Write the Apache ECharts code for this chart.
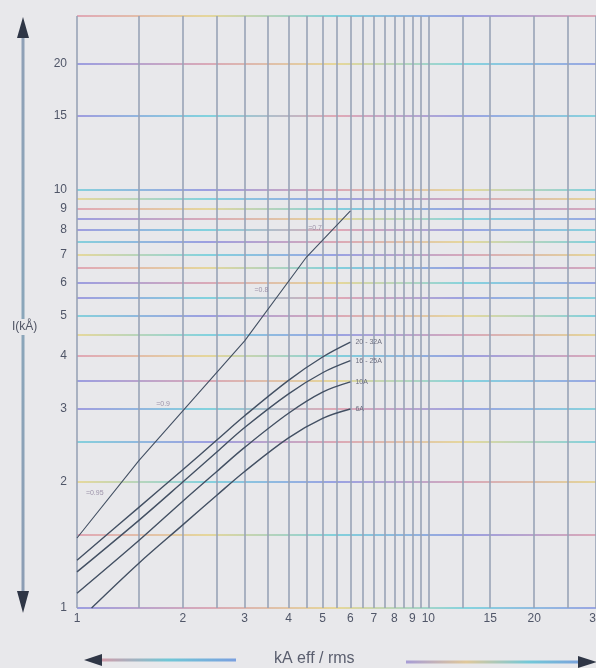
<!DOCTYPE html>
<html>
<head>
<meta charset="utf-8">
<script src="https://cdn.jsdelivr.net/npm/echarts@6/dist/echarts.min.js"></script>
<style>
html,body{margin:0;padding:0;background:#e8e8eb;}
#c{width:596px;height:668px;}
</style>
</head>
<body>
<div id="c"></div>
<script>
// ---- data (real values, plotted on log10 scale) ----
const xGridValues = [1,1.5,2,2.5,3,3.5,4,4.5,5,5.5,6,6.5,7,7.5,8,8.5,9,9.5,10,12.5,15,20,25,30];
const xLabelValues = [1,2,3,4,5,6,7,8,9,10,15,20,30];
const yGridValues = [1,1.5,2,2.5,3,3.5,4,4.5,5,5.5,6,6.5,7,7.5,8,8.5,9,9.5,10,15,20,26];
const yLabelValues = [1,2,3,4,5,6,7,8,9,10,15,20];
const xMin = 1, xMax = 30, yMin = 1, yMax = 26;

// unlimited peak current line (piecewise by power factor)
const peakX = [1, 1.5, 3, 4.5, 6];
const peakY = [1.47, 2.25, 4.35, 6.9, 8.9];
const pfLabels = ['=0.95', '=0.9', '=0.8', '=0.7'];
const pfLabelX = [1.06, 1.68, 3.2, 4.55];
const pfLabelY = [1.88, 3.08, 5.75, 8.1];

// let-through curves
const curveNames = ['20 - 32A', '16 - 25A', '10A', '6A'];
const curve1X = [1, 1.5, 2, 2.5, 3, 4, 5, 6];
const curve1Y = [1.30, 1.74, 2.14, 2.52, 2.88, 3.5, 3.98, 4.32];
const curve2X = [1, 1.5, 2, 2.5, 3, 4, 5, 6];
const curve2Y = [1.22, 1.62, 2.0, 2.36, 2.7, 3.25, 3.65, 3.9];
const curve3X = [1, 1.5, 2, 2.5, 3, 4, 5, 6];
const curve3Y = [1.085, 1.45, 1.8, 2.12, 2.42, 2.92, 3.28, 3.47];
const curve4X = [1.1, 1.5, 2, 2.5, 3, 4, 5, 6];
const curve4Y = [1.0, 1.28, 1.58, 1.86, 2.12, 2.55, 2.84, 2.99];

const L = Math.log10;
const pts = (xs, ys) => xs.map((x, i) => [L(x), L(ys[i])]);

const chart = echarts.init(document.getElementById('c'), null, {renderer: 'canvas'});
const G = echarts.graphic.LinearGradient;
const gLeft = 77, gRight = 596;
function hGrad(stops) {
  return new G(gLeft, 0, gRight, 0, stops.map((c, i) => ({offset: i / (stops.length - 1), color: c})), true);
}
const hColors = [
  hGrad(['#9c9ee0', '#d9a9b8', '#e6d79a', '#86d3de', '#9aa6e2']),
  hGrad(['#e0a8b6', '#e5d69c', '#82d0dc', '#9a9fe0', '#dba9b8']),
  hGrad(['#e6d89c', '#84d2de', '#9aa2e2', '#d7a8ba', '#e4d59a']),
  hGrad(['#86d0dc', '#9c9fe0', '#dba8b6', '#e5d89e', '#82d0de']),
  hGrad(['#a09ddf', '#82d2de', '#e0a9b6', '#9ba3e2', '#88d3dd'])
];
const curveColor = '#435063';

function curveSeries(name, xs, ys) {
  return {
    type: 'line', name: name, data: pts(xs, ys), smooth: 0.35, symbol: 'none',
    lineStyle: {color: curveColor, width: 1.4},
    endLabel: {show: true, formatter: name, color: '#6d6f80', fontSize: 7, distance: 5,
               fontFamily: 'Liberation Sans'},
    z: 5, silent: true
  };
}

const option = {
  backgroundColor: '#e8e8eb',
  animation: false,
  grid: {left: gLeft, right: 596 - gRight, top: 16, bottom: 60,
         containLabel: false, outerBoundsMode: 'none'},
  xAxis: {
    type: 'value', min: L(xMin), max: L(xMax),
    axisLine: {show: false},
    axisTick: {show: false, customValues: xGridValues.map(L)},
    axisLabel: {
      customValues: xLabelValues.map(L), margin: 5, hideOverlap: false,
      formatter: v => String(Math.round(Math.pow(10, v))),
      color: '#505668', fontSize: 12, fontFamily: 'Liberation Sans'
    },
    splitLine: {show: true, lineStyle: {color: '#98a3b7', width: 1.6}}
  },
  yAxis: {
    type: 'value', min: L(yMin), max: L(yMax),
    axisLine: {show: false},
    axisTick: {show: false, customValues: yGridValues.map(L)},
    axisLabel: {
      customValues: yLabelValues.map(L), margin: 10,
      formatter: v => String(Math.round(Math.pow(10, v))),
      color: '#505668', fontSize: 12, fontFamily: 'Liberation Sans'
    },
    splitLine: {show: true, lineStyle: {color: hColors, width: 2}}
  },
  series: [
    {
      type: 'line', name: 'peak', data: pts(peakX, peakY), symbol: 'none',
      lineStyle: {color: curveColor, width: 1.1}, z: 5, silent: true
    },
    {
      type: 'scatter', name: 'pf', symbolSize: 0, silent: true,
      data: pfLabelX.map((x, i) => ({value: [L(x), L(pfLabelY[i])], name: pfLabels[i]})),
      label: {show: true, position: 'right', distance: 0, formatter: p => p.name,
              color: '#8a7d98', fontSize: 7, fontFamily: 'Liberation Sans'},
      z: 6
    },
    curveSeries(curveNames[0], curve1X, curve1Y),
    curveSeries(curveNames[1], curve2X, curve2Y),
    curveSeries(curveNames[2], curve3X, curve3Y),
    curveSeries(curveNames[3], curve4X, curve4Y)
  ],
  graphic: [
    {type: 'line', shape: {x1: 23, y1: 34, x2: 23, y2: 594},
     style: {stroke: new G(0, 0, 0, 1, [{offset: 0, color: '#8fa0b6'}, {offset: 0.5, color: '#8aa6ba'}, {offset: 1, color: '#8c9db4'}]), lineWidth: 3}},
    {type: 'polygon', shape: {points: [[23, 17], [17, 38], [29, 38]]}, style: {fill: '#2f3646'}},
    {type: 'polygon', shape: {points: [[23, 613], [17, 591], [29, 591]]}, style: {fill: '#2f3646'}},
    {type: 'text', left: 12, top: 319,
     style: {text: 'I(kÅ)', fill: '#4f5464', fontSize: 12, fontFamily: 'Liberation Sans',
             backgroundColor: '#e8e8eb', padding: [2, 0]}},
    {type: 'line', shape: {x1: 100, y1: 660, x2: 236, y2: 660},
     style: {stroke: new G(0, 0, 1, 0, [{offset: 0, color: '#d79aa8'}, {offset: 0.5, color: '#6fc7d6'}, {offset: 1, color: '#7a9ee0'}]), lineWidth: 3}},
    {type: 'polygon', shape: {points: [[84, 660], [102, 654], [102, 666]]}, style: {fill: '#2f3646'}},
    {type: 'text', left: 274, top: 651,
     style: {text: 'kA eff / rms', fill: '#5a5e6e', fontSize: 16, fontFamily: 'Liberation Sans'}},
    {type: 'line', shape: {x1: 406, y1: 662, x2: 580, y2: 662},
     style: {stroke: new G(0, 0, 1, 0, [{offset: 0, color: '#a49ad8'}, {offset: 0.35, color: '#e0c89a'}, {offset: 0.7, color: '#72c8d8'}, {offset: 1, color: '#7aa0dc'}]), lineWidth: 3}},
    {type: 'polygon', shape: {points: [[597, 662], [578, 656], [578, 668]]}, style: {fill: '#2f3646'}}
  ]
};
chart.setOption(option);
</script>
</body>
</html>
